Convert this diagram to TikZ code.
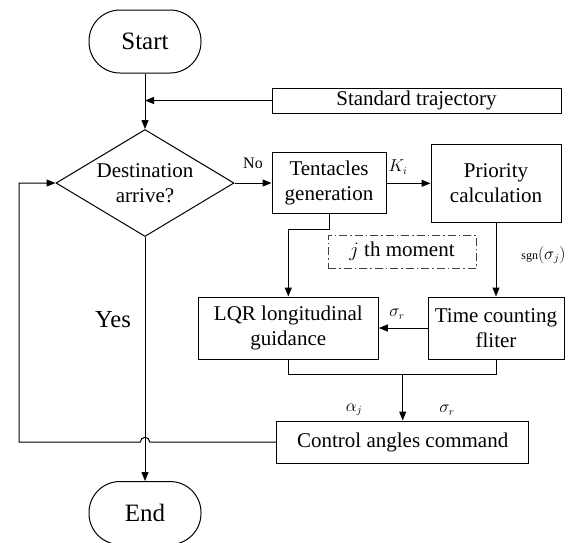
\documentclass[tikz,border=0pt]{standalone}
\usepackage{fontspec}
\setmainfont{Liberation Serif}
\usetikzlibrary{arrows.meta,shapes.geometric,calc}
\begin{document}
\begin{tikzpicture}[x=1pt,y=-1pt,
  line width=1pt,
  arr/.style={-{Triangle[length=9pt,width=7pt]}},
  stepbox/.style={draw,rectangle,align=center,inner sep=0pt,font=\fontsize{21}{25}\selectfont},
  term/.style={draw,rectangle,rounded corners=31pt,inner sep=0pt,minimum width=112pt,minimum height=63pt,font=\fontsize{25}{30}\selectfont},
  lab/.style={inner sep=0pt,font=\fontsize{16}{18}\selectfont},
  dashdot/.style={draw=black!75,line width=0.8pt,dash pattern=on 8pt off 3pt on 1.5pt off 3pt}]
\useasboundingbox (0,0) rectangle (572,542);
% nodes
\node[term] (start) at (145,41.5) {Start};
\node[stepbox,minimum width=289pt,minimum height=25pt] (std) at (416.5,100.5) {Standard trajectory};
\node[draw,diamond,inner sep=0pt,minimum width=178pt,minimum height=107pt] (dest) at (145,183) {};
\node[align=center,inner sep=0pt,font=\fontsize{21}{25}\selectfont] (destt) at (dest.center) {Destination\\arrive?};
\node[stepbox,minimum width=114pt,minimum height=61pt] (tent) at (329,183.3) {Tentacles\\generation};
\node[stepbox,minimum width=130pt,minimum height=78pt] (prio) at (496,183.3) {Priority\\calculation};
\node[stepbox,dashdot,minimum width=148pt,minimum height=33pt] (jth) at (402,251.5) {$j$ th moment};
\node[stepbox,minimum width=180pt,minimum height=62pt] (lqr) at (288.3,328) {LQR longitudinal\\guidance};
\node[stepbox,minimum width=136pt,minimum height=62pt] (time) at (496,328) {Time counting\\fliter};
\node[stepbox,minimum width=252pt,minimum height=42pt] (ctrl) at (402.7,442) {Control angles command};
\node[term] (end) at (145,513) {End};
% labels
\node[lab] (no) at (253,163) {No};
\node[lab] (ki) at (398,167) {$K_i$};
\node[inner sep=0pt,anchor=east] (sgn) at (566,255) {{\fontsize{12}{14}\selectfont sgn}{\fontsize{16}{18}\selectfont$\bigl(\sigma_j\bigr)$}};
\node[lab] (sr1) at (397,314) {$\sigma_r$};
\node[lab] (aj) at (354,410) {$\alpha_j$};
\node[lab] (sr2) at (447,410) {$\sigma_r$};
\node[inner sep=0pt,font=\fontsize{24.5}{28}\selectfont] (yes) at (113,320) {Yes};
% coordinates
\coordinate (jr) at ($(start.south |- ctrl.west)+(4.7,0)$);
\coordinate (lc) at (19,442);
\coordinate (tb) at ($(tent.south)+(0,15.3)$);
\coordinate (lb) at ($(lqr.south)+(0,15)$);
% connectors
\draw[arr] (start.south) -- (dest.north);
\draw[arr] (std.west) -- (std.west -| start.south);
\draw[arr] (dest.east) -- (dest.east -| tent.west);
\draw[arr] (tent.east) -- (tent.east -| prio.west);
\draw[arr] (tent.south) -- (tb) -| (lqr.north);
\draw[arr] (prio.south) -- (time.north);
\draw[arr] (time.west) -- (lqr.east);
\draw (lqr.south) -- (lb) -| (time.south);
\draw[arr] (lb -| ctrl.north) -- (ctrl.north);
\draw[arr] (dest.south) -- (end.north);
\draw[arr] (ctrl.west) -- (jr) arc[start angle=0,end angle=-180,radius=4.7] -- (lc) |- (dest.west);
\end{tikzpicture}
\end{document}
